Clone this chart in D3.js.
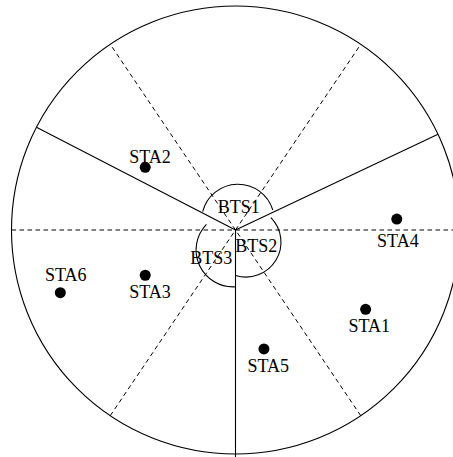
<!DOCTYPE html>
<html>
<head>
<meta charset="utf-8">
<script src="https://cdn.jsdelivr.net/npm/d3@7"></script>
<style>
  html, body { margin: 0; padding: 0; background: #fff; }
  svg { display: block; }
  text { font-family: "Liberation Serif", "Times New Roman", serif; font-size: 18px; fill: #000; }
</style>
</head>
<body>
<svg id="chart" width="453" height="457"></svg>
<script>
// ---- Data (units: cell radius = 100, origin at the cell centre, y up) ----
const cellRadius = 100;

// sector boundaries (solid) – angle in degrees, length
const sectorAngles = [25.3, 152.7, -90];
const sectorLengths = [100, 100, 101.5];

// dashed diameters – angle in degrees
const dashedAngles = [0, 56, 124];

// base stations (sector antennas drawn as arcs)
const btsNames = ["BTS1", "BTS2", "BTS3"];
const btsCx = [1.1, 4.7, -1.1];
const btsCy = [4.2, -5.4, -8.9];
const btsR = [16.25, 15.6, 16.5];
const btsStart = [16.9, -107.5, 136];   // degrees, counter-clockwise
const btsEnd = [165.7, 44.6, 274];
const btsLabelX = [1.4, 9.3, -10.8];
const btsLabelY = [7.7, -10.0, -15.3];

// stations
const staNames = ["STA1", "STA2", "STA3", "STA4", "STA5", "STA6"];
const staX = [58.1, -40.3, -40.3, 72.0, 12.7, -78.2];
const staY = [-35.4, 28.0, -20.2, 4.9, -53.1, -28.0];
const staLabelX = [59.7, -38.2, -38.2, 72.5, 14.6, -75.8];
const staLabelY = [-45.4, 30.0, -30.2, -7.6, -63.3, -22.8];

// ---- Drawing ----
const cx = 235.5, cy = 230, Rpx = 224;
const x = d3.scaleLinear().domain([-cellRadius, cellRadius]).range([cx - Rpx, cx + Rpx]);
const y = d3.scaleLinear().domain([-cellRadius, cellRadius]).range([cy + Rpx, cy - Rpx]);
const k = Rpx / cellRadius;
const rad = d => d * Math.PI / 180;

const svg = d3.select("#chart");
svg.append("rect").attr("width", 453).attr("height", 457).attr("fill", "#fff");

// outer cell circle
svg.append("circle")
  .attr("cx", x(0)).attr("cy", y(0)).attr("r", cellRadius * k)
  .attr("fill", "none").attr("stroke", "#000").attr("stroke-width", 1.1);

// dashed diameters
svg.append("g").selectAll("line").data(dashedAngles).join("line")
  .attr("x1", a => x(-cellRadius * Math.cos(rad(a))))
  .attr("y1", a => y(-cellRadius * Math.sin(rad(a))))
  .attr("x2", a => x(cellRadius * Math.cos(rad(a))))
  .attr("y2", a => y(cellRadius * Math.sin(rad(a))))
  .attr("stroke", "#000").attr("stroke-width", 1)
  .attr("stroke-dasharray", "4.5,3.5");

// solid sector boundaries
svg.append("g").selectAll("line").data(sectorAngles).join("line")
  .attr("x1", x(0)).attr("y1", y(0))
  .attr("x2", (a, i) => x(sectorLengths[i] * Math.cos(rad(a))))
  .attr("y2", (a, i) => y(sectorLengths[i] * Math.sin(rad(a))))
  .attr("stroke", "#000").attr("stroke-width", 1.1);

// BTS arcs
svg.append("g").selectAll("path").data(btsNames).join("path")
  .attr("d", (d, i) => {
    const p = d3.path();
    const px = x(btsCx[i]), py = y(btsCy[i]), r = btsR[i] * k;
    const a0 = -rad(btsStart[i]), a1 = -rad(btsEnd[i]);
    p.moveTo(px + r * Math.cos(a0), py + r * Math.sin(a0));
    p.arc(px, py, r, a0, a1, true);
    return p.toString();
  })
  .attr("fill", "none").attr("stroke", "#000").attr("stroke-width", 1.1);

// BTS labels
svg.append("g").selectAll("text").data(btsNames).join("text")
  .attr("x", (d, i) => x(btsLabelX[i]))
  .attr("y", (d, i) => y(btsLabelY[i]))
  .attr("text-anchor", "middle")
  .text(d => d);

// stations
svg.append("g").selectAll("circle").data(staNames).join("circle")
  .attr("cx", (d, i) => x(staX[i]))
  .attr("cy", (d, i) => y(staY[i]))
  .attr("r", 5.5)
  .attr("fill", "#000");

svg.append("g").selectAll("text").data(staNames).join("text")
  .attr("x", (d, i) => x(staLabelX[i]))
  .attr("y", (d, i) => y(staLabelY[i]))
  .attr("text-anchor", "middle")
  .text(d => d);
</script>
</body>
</html>
